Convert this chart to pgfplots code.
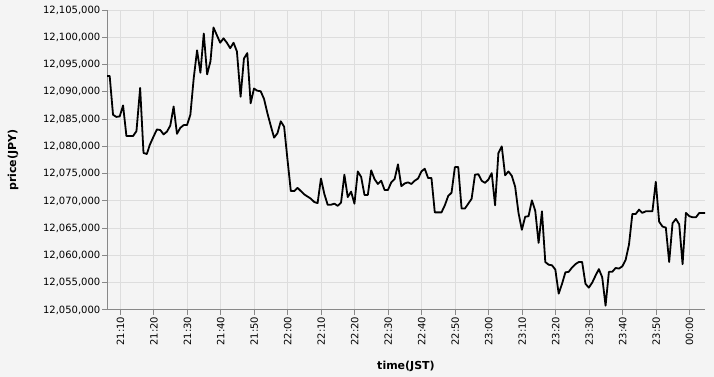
\documentclass[border=0pt]{standalone}
\usepackage{pgfplots}
\pgfplotsset{compat=1.18}
\usepackage{fontspec}
\setmainfont{DejaVu Sans}
\definecolor{bgc}{HTML}{F4F4F4}
\definecolor{gridc}{HTML}{DDDDDD}
\definecolor{axc}{HTML}{888888}
\begin{document}
\begin{tikzpicture}[x=1pt,y=1pt]
\fill[bgc] (0,0) rectangle (714,377);
\begin{axis}[
  at={(107pt,67pt)}, anchor=south west,
  width=598pt, height=300pt, scale only axis,
  xmin=6.0, xmax=184.6, ymin=12050, ymax=12105,
  scaled y ticks=false, scaled x ticks=false,
  axis x line*=bottom, axis y line*=left,
  xtick pos=left, ytick pos=left,
  axis line style={draw=axc, line width=1pt},
  tick align=outside, major tick length=5pt,
  tick style={draw=axc, line width=1pt},
  grid=major, major grid style={draw=gridc, line width=1pt},
  xtick={10,20,...,180},
  xticklabels={21:10,21:20,21:30,21:40,21:50,22:00,22:10,22:20,22:30,22:40,22:50,23:00,23:10,23:20,23:30,23:40,23:50,00:00},
  ytick={12050,12055,...,12105},
  yticklabels={{12,050,000},{12,055,000},{12,060,000},{12,065,000},{12,070,000},{12,075,000},{12,080,000},{12,085,000},{12,090,000},{12,095,000},{12,100,000},{12,105,000}},
  ticklabel style={font=\fontsize{10}{12}\selectfont, text=black},
  xticklabel style={rotate=90, anchor=east, inner sep=1.5pt},
  yticklabel style={anchor=east, inner sep=1.5pt},
  xlabel={time(JST)}, ylabel={price(JPY)},
  every axis x label/.style={at={(axis description cs:0.5,-0.189)}, anchor=center, font=\fontsize{11}{13}\selectfont\bfseries},
  every axis y label/.style={at={(axis description cs:-0.1572,0.5)}, rotate=90, anchor=center, font=\fontsize{11}{13}\selectfont\bfseries},
]
\addplot[black, line width=1.8pt, line join=round, mark=none] table {
t v
6.0 12092.9
6.8 12092.9
7.8 12085.8
8.8 12085.4
9.8 12085.5
10.8 12087.5
11.8 12081.9
12.8 12081.9
13.8 12081.9
14.8 12082.8
15.9 12090.7
16.9 12078.8
17.9 12078.6
18.8 12080.3
19.9 12081.8
20.9 12083.1
21.9 12083.0
22.9 12082.2
23.9 12082.7
24.9 12083.8
25.9 12087.3
26.9 12082.3
27.9 12083.4
28.9 12083.9
29.9 12083.9
30.9 12085.8
31.9 12092.5
32.9 12097.6
33.9 12093.5
34.9 12100.7
35.9 12093.2
36.9 12095.6
37.8 12101.8
38.8 12100.4
39.8 12099.0
40.8 12099.8
41.8 12099.0
42.8 12098.0
43.8 12099.0
44.8 12097.4
45.9 12089.1
46.9 12096.1
47.9 12097.1
48.9 12087.9
49.9 12090.6
50.9 12090.2
51.9 12090.1
52.9 12088.7
53.9 12086.1
54.9 12083.8
55.9 12081.6
56.9 12082.4
57.9 12084.6
58.9 12083.6
59.9 12077.6
60.9 12071.8
61.9 12071.8
62.9 12072.4
63.9 12071.8
64.9 12071.2
65.9 12070.8
66.9 12070.4
67.9 12069.8
68.9 12069.6
69.9 12074.1
70.9 12071.3
71.9 12069.3
72.9 12069.3
73.9 12069.5
74.9 12069.1
75.9 12069.7
76.9 12074.8
77.9 12070.7
78.9 12071.7
79.9 12069.5
80.9 12075.4
81.9 12074.4
82.9 12071.1
83.9 12071.1
84.9 12075.6
85.9 12074.0
86.9 12073.1
87.9 12073.7
88.9 12072.0
89.9 12072.0
90.9 12073.4
91.9 12074.0
92.9 12076.7
93.9 12072.7
94.9 12073.2
95.9 12073.4
96.9 12073.1
97.9 12073.7
98.9 12074.1
99.9 12075.4
100.9 12075.9
101.9 12074.2
102.9 12074.2
103.9 12067.9
104.9 12067.9
105.9 12067.9
106.9 12069.2
107.9 12070.9
108.9 12071.5
109.9 12076.2
110.9 12076.2
111.9 12068.6
112.9 12068.6
113.9 12069.5
114.9 12070.4
115.9 12074.8
116.9 12074.9
117.9 12073.7
118.9 12073.3
119.9 12073.9
120.9 12075.1
121.9 12069.2
122.9 12078.8
123.9 12080.0
124.9 12074.7
125.9 12075.4
126.9 12074.6
127.9 12072.6
128.9 12067.8
129.9 12064.7
130.9 12067.1
131.9 12067.2
132.9 12070.1
133.9 12068.2
134.9 12062.3
135.9 12068.1
136.9 12058.8
137.9 12058.3
138.9 12058.2
139.9 12057.4
140.9 12053.0
141.9 12054.8
142.9 12056.9
143.9 12057.0
144.9 12057.8
145.9 12058.4
146.9 12058.8
147.9 12058.8
148.9 12054.8
149.9 12054.1
150.9 12055.0
151.9 12056.3
152.9 12057.5
153.9 12056.0
154.9 12050.8
155.9 12057.0
156.9 12057.0
157.9 12057.7
158.9 12057.6
159.9 12058.0
160.9 12059.2
161.9 12062.0
162.9 12067.6
163.9 12067.6
164.9 12068.4
165.9 12067.8
166.9 12068.1
167.9 12068.1
168.9 12068.1
169.9 12073.5
170.9 12066.2
171.9 12065.3
172.9 12065.1
173.9 12058.8
174.9 12065.9
175.9 12066.7
176.9 12065.7
177.9 12058.4
178.9 12067.8
179.9 12067.2
180.9 12067.0
181.9 12067.0
182.9 12067.8
183.9 12067.8
184.6 12067.8
};
\end{axis}
\end{tikzpicture}
\end{document}
